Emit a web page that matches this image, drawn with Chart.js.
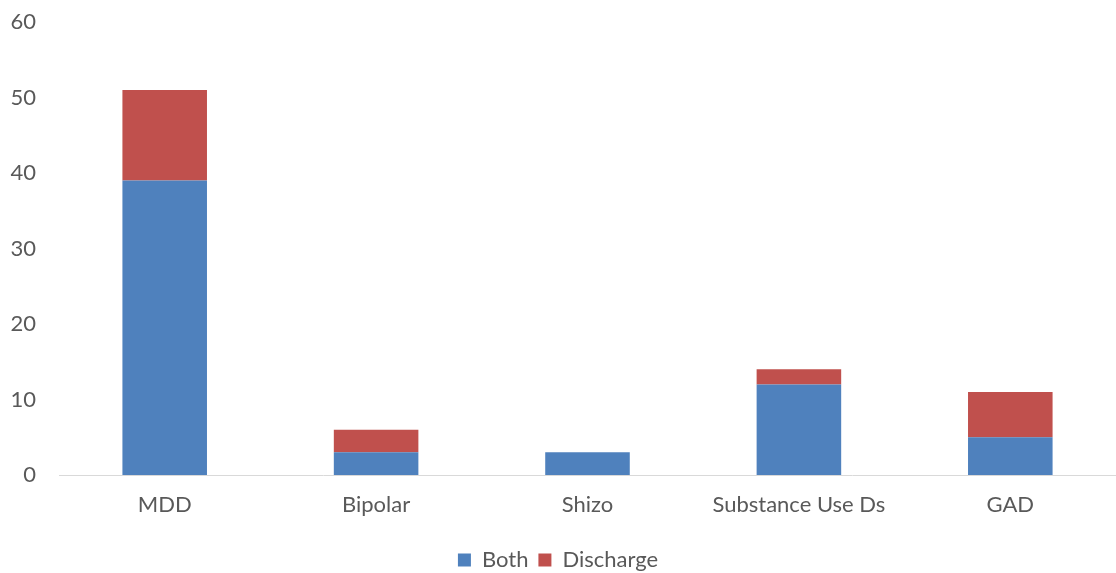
<!DOCTYPE html>
<html>
<head>
<meta charset="utf-8">
<script src="https://cdn.jsdelivr.net/npm/chart.js@4/dist/chart.umd.min.js"></script>
<style>
html,body{margin:0;padding:0;background:#fff;}
#wrap{width:1116px;height:573px;position:relative;}
</style>
</head>
<body>
<div id="wrap"><canvas id="c" width="1116" height="573"></canvas></div>
<script>
const categories = ["MDD", "Bipolar", "Shizo", "Substance Use Ds", "GAD"];
const bothValues = [39, 3, 3, 12, 5];
const dischargeValues = [12, 3, 0, 2, 6];
const yTicks = [0, 10, 20, 30, 40, 50, 60];

const FONT = "Lato, 'Open Sans', sans-serif";
const TXT = "#595959";

new Chart(document.getElementById("c"), {
  type: "bar",
  data: {
    labels: categories,
    datasets: [
      { label: "Both", data: bothValues, backgroundColor: "#4F81BD", borderWidth: 0 },
      { label: "Discharge", data: dischargeValues, backgroundColor: "#C0504D", borderWidth: 0 }
    ]
  },
  options: {
    responsive: false,
    animation: false,
    layout: { padding: { top: 22, right: 0, bottom: -8, left: 0 } },
    datasets: { bar: { categoryPercentage: 1.0, barPercentage: 0.4 } },
    plugins: {
      tooltip: { enabled: false },
      legend: {
        position: "bottom",
        labels: {
          color: TXT,
          font: { family: FONT, size: 22 },
          boxWidth: 13, boxHeight: 13,
          padding: 10
        }
      }
    },
    scales: {
      x: {
        stacked: true,
        grid: { display: false },
        border: { display: true, color: "#D9D9D9", width: 1 },
        afterFit: (s) => { s.height = 64; },
        ticks: { color: TXT, font: { family: FONT, size: 22 }, padding: 9, maxRotation: 0 }
      },
      y: {
        stacked: true,
        min: 0, max: 60,
        afterBuildTicks: (s) => { s.ticks = yTicks.map(v => ({ value: v })); },
        afterFit: (s) => { s.width = 59; s.paddingTop = 0; s.paddingBottom = 0; },
        grid: { display: false },
        border: { display: false },
        ticks: { color: TXT, font: { family: FONT, size: 22 }, padding: 15 }
      }
    }
  }
});
</script>
</body>
</html>
